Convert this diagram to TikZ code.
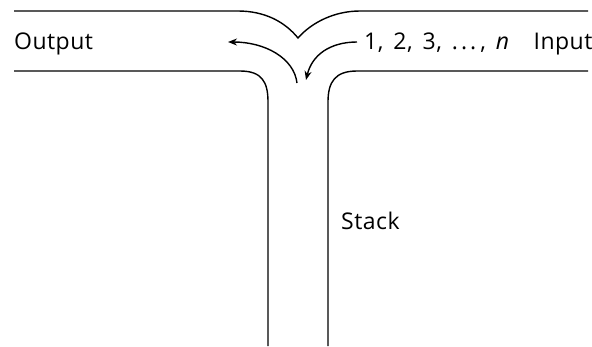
\documentclass[tikz,border=0pt]{standalone}
\usepackage{fontspec}
\setmainfont[LetterSpace=2]{Open Sans}
\usetikzlibrary{arrows.meta}
\begin{document}
\begin{tikzpicture}[x=1pt,y=-1pt,
  wall/.style={line width=1.4pt,black},
  flow/.style={line width=1.4pt,black,-{Stealth[length=9pt,width=7pt]}},
  lbl/.style={font=\fontsize{23}{27}\selectfont,inner sep=0pt,anchor=base west}]
\useasboundingbox (0,0) rectangle (592,346);
% channel walls
\coordinate (tl) at (14,11);
\coordinate (tr) at (588,11);
\coordinate (v) at (298,38);
\coordinate (bl) at (14,71);
\coordinate (br) at (588,71);
\coordinate (lw) at (268,346);
\coordinate (rw) at (328,346);
\draw[wall] (tl) -- (238,11) .. controls (265,11) and (285,22) .. (v)
  .. controls (312,22) and (335,11) .. (360,11) -- (tr);
\draw[wall] (bl) -- (240,71) .. controls (262,71) and (268,82) .. (268,102) -- (lw);
\draw[wall] (br) -- (357,71) .. controls (335,71) and (328,82) .. (328,102) -- (rw);
% labels
\node[lbl] (out) at (14,49) {Output};
\node[lbl] (in) at (364,49) {\spaceskip=10pt 1, 2, 3, .\hspace{3pt}.\hspace{3pt}.\hspace{4pt}, \textit{n}\hspace{24pt}Input};
\node[lbl] (stk) at (341,229) {Stack};
% movement arrows
\coordinate (pop) at (297,83);
\coordinate (push) at (306,80);
\coordinate (s) at (357,42);
\draw[flow] (pop) .. controls (294,58) and (265,42) .. (228,42);
\draw[flow] (s) .. controls (330,42) and (312,55) .. (push);
\end{tikzpicture}
\end{document}
